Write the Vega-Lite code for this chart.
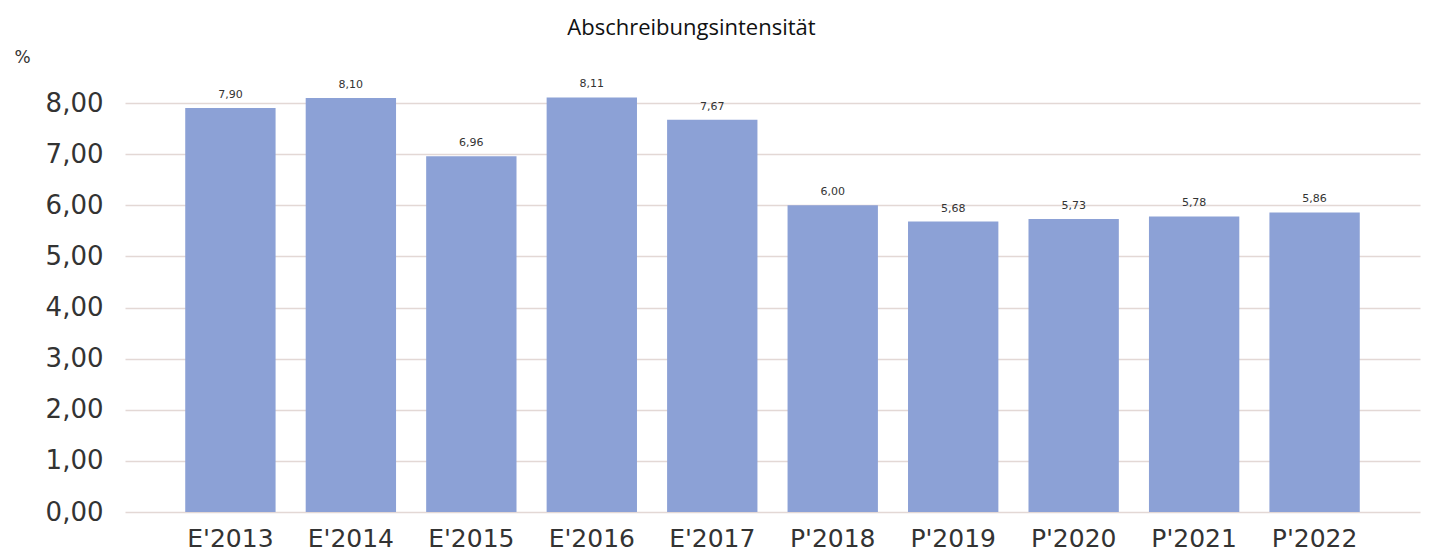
{
  "$schema": "https://vega.github.io/schema/vega-lite/v6.json",
  "width": 1295,
  "height": 409,
  "autosize": {"type": "none"},
  "padding": {"left": 125, "top": 103, "right": 27, "bottom": 48},
  "background": "white",
  "title": {
    "text": "Abschreibungsintensität",
    "font": "Open Sans",
    "fontSize": 22,
    "fontWeight": "normal",
    "color": "#111111",
    "anchor": "middle",
    "frame": "group",
    "dx": -81,
    "offset": 8
  },
  "config": {
    "locale": {
      "number": {"decimal": ",", "thousands": ".", "grouping": [3], "currency": ["", " €"]}
    },
    "view": {"stroke": null}
  },
  "data": {
    "values": [
      {"jahr": "E'2013", "wert": 7.90},
      {"jahr": "E'2014", "wert": 8.10},
      {"jahr": "E'2015", "wert": 6.96},
      {"jahr": "E'2016", "wert": 8.11},
      {"jahr": "E'2017", "wert": 7.67},
      {"jahr": "P'2018", "wert": 6.00},
      {"jahr": "P'2019", "wert": 5.68},
      {"jahr": "P'2020", "wert": 5.73},
      {"jahr": "P'2021", "wert": 5.78},
      {"jahr": "P'2022", "wert": 5.86}
    ]
  },
  "encoding": {
    "x": {
      "field": "jahr",
      "type": "nominal",
      "sort": null,
      "scale": {"paddingInner": 0.25, "paddingOuter": 0.5},
      "axis": {
        "title": null,
        "labelAngle": 0,
        "labelFont": "DejaVu Sans",
        "labelFontSize": 25,
        "labelColor": "#333333",
        "labelPadding": 14,
        "ticks": false,
        "domain": false
      }
    },
    "y": {
      "field": "wert",
      "type": "quantitative",
      "scale": {"domain": [0, 8], "nice": false},
      "axis": {
        "values": [0, 1, 2, 3, 4, 5, 6, 7, 8],
        "format": ".2f",
        "title": "%",
        "titleAngle": 0,
        "titleX": -103,
        "titleY": -46,
        "titleAlign": "center",
        "titleBaseline": "middle",
        "titleFont": "DejaVu Sans",
        "titleFontSize": 17,
        "titleFontWeight": "normal",
        "titleColor": "#333333",
        "labelFont": "DejaVu Sans",
        "labelFontSize": 26,
        "labelColor": "#333333",
        "labelPadding": 22,
        "ticks": false,
        "domain": false,
        "grid": true,
        "gridColor": "#e3d8d5",
        "gridWidth": 1.5
      }
    }
  },
  "layer": [
    {"mark": {"type": "bar", "color": "#8ca1d6", "clip": false}},
    {
      "mark": {"type": "text", "baseline": "bottom", "dy": -8, "font": "DejaVu Sans", "fontSize": 11, "color": "#333333"},
      "encoding": {"text": {"field": "wert", "type": "quantitative", "format": ".2f"}}
    }
  ]
}
